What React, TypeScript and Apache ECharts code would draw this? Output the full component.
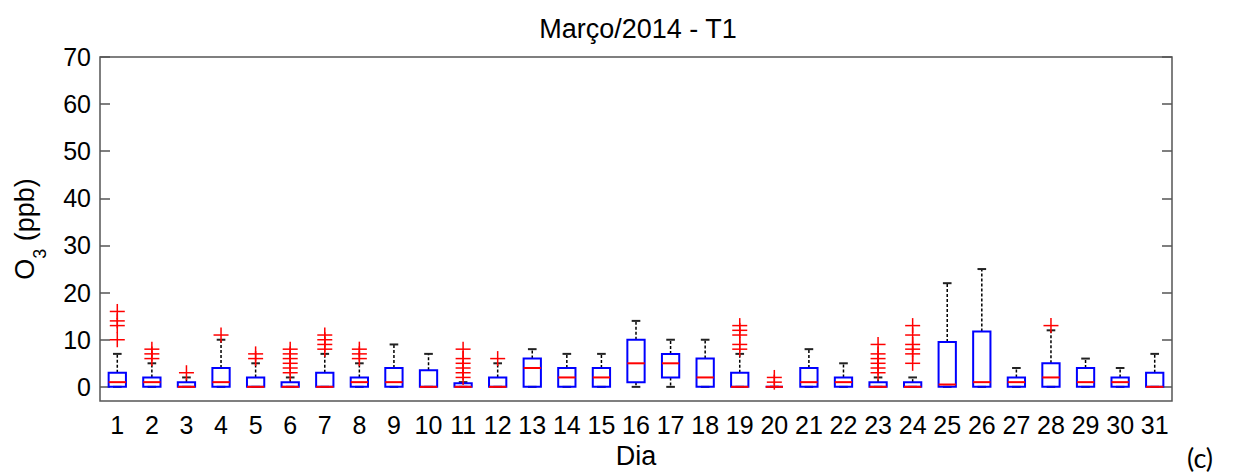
import React, { useEffect, useRef } from "react";
import * as echarts from "echarts";

const days = [1, 2, 3, 4, 5, 6, 7, 8, 9, 10, 11, 12, 13, 14, 15, 16, 17, 18, 19, 20, 21, 22, 23, 24, 25, 26, 27, 28, 29, 30, 31];
const q1 = [0, 0, 0, 0, 0, 0, 0, 0, 0, 0, 0, 0, 0, 0, 0, 1, 2, 0, 0, 0, 0, 0, 0, 0, 0, 0, 0, 0, 0, 0, 0];
const medians = [1, 1, 0, 1, 0, 0, 0, 1, 1, 0, 0, 0, 4, 2, 2, 5, 5, 2, 0, 0, 1, 1, 0, 0, 0.5, 1, 1, 2, 1, 1, 0];
const q3 = [3, 2, 1, 4, 2, 1, 3, 2, 4, 3.5, 0.75, 2, 6, 4, 4, 10, 7, 6, 3, 0, 4, 2, 1, 1, 9.5, 11.75, 2, 5, 4, 2, 3];
const whiskerLow = [0, 0, 0, 0, 0, 0, 0, 0, 0, 0, 0, 0, 0, 0, 0, 0, 0, 0, 0, 0, 0, 0, 0, 0, 0, 0, 0, 0, 0, 0, 0];
const whiskerHigh = [7, 5, 2, 10, 5, 2, 7, 5, 9, 7, 1, 5, 8, 7, 7, 14, 10, 10, 7, 0, 8, 5, 2, 2, 22, 25, 4, 12, 6, 4, 7];
const outliers: number[][] = [
  [10, 13, 14, 16], [6, 7, 8], [3], [11], [6, 7], [3, 4, 5, 6, 7, 8], [8, 9, 10, 11], [6, 7, 8], [], [], [2, 3, 4, 5, 6, 8],
  [6], [], [], [], [], [], [], [8, 9, 11, 12, 13], [1, 2], [], [], [3, 4, 5, 6, 7, 9], [5, 7, 8, 9, 11, 13],
  [], [], [], [13], [], [], [],
];
const yTicks = [0, 10, 20, 30, 40, 50, 60, 70];

const FONT = "'Liberation Sans', Arial, sans-serif";

export default function App() {
  const ref = useRef<HTMLDivElement>(null);
  useEffect(() => {
    if (!ref.current) return;
    const chart = echarts.init(ref.current, null, { renderer: "svg" });

    const boxData = days.map((d, i) => [d, q1[i], medians[i], q3[i], whiskerLow[i], whiskerHigh[i]]);
    const outData: number[][] = [];
    days.forEach((d, i) => outliers[i].forEach((v) => outData.push([d, v])));

    const halfW = 0.25;
    const capW = 0.125;

    const renderBox = (params: any, api: any) => {
      const x = api.value(0);
      const b1 = api.value(1), md = api.value(2), b3 = api.value(3), lo = api.value(4), hi = api.value(5);
      const children: any[] = [];
      const dash = { stroke: "#000", lineWidth: 1.5, lineDash: [3, 2] };
      if (hi > b3) {
        const a = api.coord([x, b3]), b = api.coord([x, hi]);
        children.push({ type: "line", shape: { x1: a[0], y1: a[1], x2: b[0], y2: b[1] }, style: dash });
      }
      if (lo < b1) {
        const a = api.coord([x, b1]), b = api.coord([x, lo]);
        children.push({ type: "line", shape: { x1: a[0], y1: a[1], x2: b[0], y2: b[1] }, style: dash });
      }
      [hi, lo].forEach((v) => {
        const a = api.coord([x - capW, v]), b = api.coord([x + capW, v]);
        children.push({ type: "line", shape: { x1: a[0], y1: a[1], x2: b[0], y2: b[1] }, style: { stroke: "#222", lineWidth: 2 } });
      });
      const tl = api.coord([x - halfW, b3]);
      const br = api.coord([x + halfW, b1]);
      children.push({
        type: "rect",
        shape: { x: tl[0], y: tl[1], width: br[0] - tl[0], height: br[1] - tl[1] },
        style: { fill: "none", stroke: "#0000ff", lineWidth: 2 },
      });
      const m1 = api.coord([x - halfW, md]), m2 = api.coord([x + halfW, md]);
      children.push({ type: "line", shape: { x1: m1[0], y1: m1[1], x2: m2[0], y2: m2[1] }, style: { stroke: "#ff0000", lineWidth: 2 } });
      return { type: "group", children };
    };

    const renderCross = (params: any, api: any) => {
      const p = api.coord([api.value(0), api.value(1)]);
      const s = 7.5;
      const st = { stroke: "#ff0000", lineWidth: 1.5 };
      return {
        type: "group",
        children: [
          { type: "line", shape: { x1: p[0] - s, y1: p[1], x2: p[0] + s, y2: p[1] }, style: st },
          { type: "line", shape: { x1: p[0], y1: p[1] - s, x2: p[0], y2: p[1] + s }, style: st },
        ],
      };
    };

    chart.setOption({
      animation: false,
      backgroundColor: "#fff",
      grid: { left: 100, right: 61, top: 57, bottom: 70, show: true, borderColor: "#555", borderWidth: 1.5, backgroundColor: "transparent" },
      graphic: [
        { type: "text", x: 638, y: 29, style: { text: "Março/2014 - T1", fontSize: 27, fontFamily: FONT, fill: "#000", textAlign: "center", textVerticalAlign: "middle" } },
        { type: "text", x: 1200, y: 457, style: { text: "(c)", fontSize: 27, fontFamily: "Lato, 'Open Sans', sans-serif", fill: "#000", textAlign: "center", textVerticalAlign: "middle" } },
      ],
      xAxis: {
        type: "value",
        min: 0.5,
        max: 31.5,
        name: "Dia",
        nameLocation: "middle",
        nameGap: 41,
        nameTextStyle: { fontSize: 27, fontFamily: FONT, color: "#000" },
        axisLine: { show: false },
        axisTick: { show: false },
        splitLine: { show: false },
        axisLabel: { customValues: days, fontSize: 25, fontFamily: FONT, color: "#000", margin: 11 },
      },
      yAxis: [
        {
          type: "value",
          min: -3,
          max: 70,
          name: "{m|O}{s|3}{m| (ppb)}",
          nameLocation: "middle",
          nameRotate: 90,
          nameGap: 55,
          nameTextStyle: {
            fontFamily: FONT,
            color: "#000",
            rich: {
              m: { fontSize: 27, fontFamily: FONT, color: "#000", lineHeight: 40, verticalAlign: "middle" },
              s: { fontSize: 18, fontFamily: FONT, color: "#000", lineHeight: 40, verticalAlign: "bottom", padding: [0, 0, -4, 0] },
            },
          },
          axisLine: { show: false },
          splitLine: { show: false },
          axisTick: { show: true, inside: true, length: 10, customValues: yTicks, lineStyle: { color: "#555", width: 1.5 } },
          axisLabel: { customValues: yTicks, fontSize: 25, fontFamily: FONT, color: "#000", margin: 9 },
        },
        {
          type: "value",
          min: -3,
          max: 70,
          position: "right",
          axisLine: { show: false },
          splitLine: { show: false },
          axisTick: { show: true, inside: true, length: 10, customValues: yTicks, lineStyle: { color: "#555", width: 1.5 } },
          axisLabel: { show: false },
        },
      ],
      series: [
        { type: "custom", name: "box", renderItem: renderBox, data: boxData, encode: { x: 0, y: [1, 2, 3, 4, 5] }, clip: false },
        { type: "custom", name: "outliers", renderItem: renderCross, data: outData, encode: { x: 0, y: 1 }, clip: false },
      ],
    });
    return () => chart.dispose();
  }, []);
  return <div ref={ref} style={{ position: "fixed", left: 0, top: 0, width: 1233, height: 474, background: "#fff" }} />;
}
